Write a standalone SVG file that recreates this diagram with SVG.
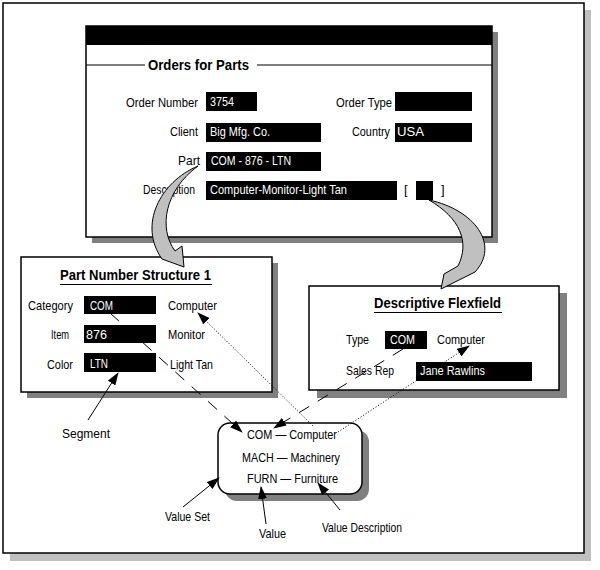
<svg xmlns="http://www.w3.org/2000/svg" width="600" height="570" viewBox="0 0 600 570">
<style>
text{font-family:"Liberation Sans",Arial,sans-serif;font-size:13px;fill:#000}
.t{font-weight:bold;font-size:15px}
.w{fill:#fff}
.box{fill:#fff;stroke:#000;stroke-width:1.5}
.sh{fill:#808080}
.fld{fill:#000}
.ln{stroke:#000;stroke-width:1.2;fill:none}
.dash{stroke:#000;stroke-width:1;fill:none;stroke-dasharray:12,10}
.dot{stroke:#000;stroke-width:1;fill:none;stroke-dasharray:1,2}
.ann{stroke:#000;stroke-width:1;fill:none}
.big{fill:#c0c0c0;stroke:#000;stroke-width:1}
</style>
<defs>
<marker id="ah" markerUnits="userSpaceOnUse" markerWidth="13" markerHeight="9" viewBox="0 0 13 9" refX="12" refY="4.5" orient="auto">
<path d="M0,0 L13,4.5 L0,9 Z" fill="#000"/>
</marker>
</defs>
<rect width="600" height="570" fill="#fff"/>
<g id="frame">
<rect x="10" y="10" width="581" height="551" fill="#c0c0c0"/>
<rect x="3" y="3" width="581" height="550" class="box"/>
</g>
<g id="orders">
<rect x="92" y="32" width="406" height="211" class="sh"/>
<rect x="86" y="26" width="406" height="211" class="box"/>
<rect x="86" y="26" width="406" height="19" class="fld"/>
<line x1="86" y1="65" x2="145" y2="65" class="ln"/>
<line x1="257" y1="65" x2="492" y2="65" class="ln"/>
<text x="148" y="70" class="t" textLength="101" lengthAdjust="spacingAndGlyphs">Orders for Parts</text>
<text x="126" y="107" textLength="72" lengthAdjust="spacingAndGlyphs">Order Number</text>
<rect x="206" y="92" width="51" height="19" class="fld"/>
<text x="210" y="106" class="w" textLength="24" lengthAdjust="spacingAndGlyphs">3754</text>
<text x="336" y="107" textLength="56" lengthAdjust="spacingAndGlyphs">Order Type</text>
<rect x="395" y="92" width="77" height="19" class="fld"/>
<text x="170" y="136" textLength="28" lengthAdjust="spacingAndGlyphs">Client</text>
<rect x="206" y="123" width="115" height="19" class="fld"/>
<text x="210" y="136" class="w" textLength="60" lengthAdjust="spacingAndGlyphs">Big Mfg. Co.</text>
<text x="352" y="136" textLength="38" lengthAdjust="spacingAndGlyphs">Country</text>
<rect x="395" y="123" width="77" height="19" class="fld"/>
<text x="397" y="136" class="w" textLength="27" lengthAdjust="spacingAndGlyphs">USA</text>
<text x="178" y="165" textLength="22" lengthAdjust="spacingAndGlyphs">Part</text>
<rect x="206" y="152" width="115" height="19" class="fld"/>
<text x="211" y="165" class="w" textLength="80" lengthAdjust="spacingAndGlyphs">COM - 876 - LTN</text>
<text x="143" y="194" textLength="52" lengthAdjust="spacingAndGlyphs">Description</text>
<rect x="206" y="181" width="191" height="19" class="fld"/>
<text x="210" y="194" class="w" textLength="137" lengthAdjust="spacingAndGlyphs">Computer-Monitor-Light Tan</text>
<text x="404" y="194">[</text>
<rect x="416" y="181" width="17" height="19" class="fld"/>
<text x="441" y="194">]</text>
</g>
<g id="partnum">
<rect x="27" y="263" width="251" height="135" class="sh"/>
<rect x="21" y="257" width="251" height="135" class="box"/>
<text x="60" y="280" class="t" textLength="151" lengthAdjust="spacingAndGlyphs">Part Number Structure 1</text>
<line x1="60" y1="284.5" x2="212" y2="284.5" class="ann"/>
<text x="28" y="310" textLength="45" lengthAdjust="spacingAndGlyphs">Category</text>
<rect x="84" y="296" width="72" height="18" class="fld"/>
<text x="90" y="310" class="w" textLength="23" lengthAdjust="spacingAndGlyphs">COM</text>
<text x="168" y="310" textLength="49" lengthAdjust="spacingAndGlyphs">Computer</text>
<text x="51" y="339" textLength="18" lengthAdjust="spacingAndGlyphs">Item</text>
<rect x="84" y="325" width="72" height="18" class="fld"/>
<text x="86" y="339" class="w" textLength="21" lengthAdjust="spacingAndGlyphs">876</text>
<text x="168" y="339" textLength="37" lengthAdjust="spacingAndGlyphs">Monitor</text>
<text x="47" y="369" textLength="26" lengthAdjust="spacingAndGlyphs">Color</text>
<rect x="84" y="353" width="72" height="19" class="fld"/>
<text x="90" y="368" class="w" textLength="18" lengthAdjust="spacingAndGlyphs">LTN</text>
<text x="170" y="369" textLength="43" lengthAdjust="spacingAndGlyphs">Light Tan</text>
</g>
<g id="descflex">
<rect x="317" y="293" width="250" height="105" class="sh"/>
<rect x="309" y="286" width="250" height="104" class="box"/>
<text x="374" y="308" class="t" textLength="127" lengthAdjust="spacingAndGlyphs">Descriptive Flexfield</text>
<line x1="374" y1="312.5" x2="502" y2="312.5" class="ann"/>
<text x="346" y="344" textLength="23" lengthAdjust="spacingAndGlyphs">Type</text>
<rect x="385" y="331" width="42" height="18" class="fld"/>
<text x="390" y="344" class="w" textLength="25" lengthAdjust="spacingAndGlyphs">COM</text>
<text x="437" y="344" textLength="48" lengthAdjust="spacingAndGlyphs">Computer</text>
<text x="346" y="375" textLength="48" lengthAdjust="spacingAndGlyphs">Sales Rep</text>
<rect x="416" y="362" width="116" height="19" class="fld"/>
<text x="420" y="375" class="w" textLength="65" lengthAdjust="spacingAndGlyphs">Jane Rawlins</text>
</g>
<g id="valueset">
<rect x="225" y="430" width="144" height="71" rx="12" class="sh"/>
<rect x="218" y="423" width="144" height="71" rx="12" class="box"/>
<text x="247" y="439" textLength="90" lengthAdjust="spacingAndGlyphs">COM — Computer</text>
<text x="242" y="462" textLength="98" lengthAdjust="spacingAndGlyphs">MACH — Machinery</text>
<text x="247" y="483" textLength="91" lengthAdjust="spacingAndGlyphs">FURN — Furniture</text>
</g>
<g id="labels">
<text x="62" y="438" textLength="48" lengthAdjust="spacingAndGlyphs">Segment</text>
<text x="165" y="521" textLength="45" lengthAdjust="spacingAndGlyphs">Value Set</text>
<text x="259" y="538" textLength="27" lengthAdjust="spacingAndGlyphs">Value</text>
<text x="322" y="532" textLength="80" lengthAdjust="spacingAndGlyphs">Value Description</text>
</g>
<g id="connectors">
<line x1="110" y1="313" x2="242" y2="432" class="dash" marker-end="url(#ah)"/>
<line x1="313" y1="426" x2="198" y2="313" class="dot" marker-end="url(#ah)"/>
<line x1="403" y1="349" x2="274" y2="428" class="dash" marker-end="url(#ah)"/>
<line x1="338" y1="432" x2="469" y2="346" class="dot" marker-end="url(#ah)"/>
<line x1="88" y1="420" x2="118" y2="373" class="ann" marker-end="url(#ah)"/>
<line x1="183" y1="507" x2="219" y2="478" class="ann" marker-end="url(#ah)"/>
<line x1="266" y1="524" x2="261" y2="487" class="ann" marker-end="url(#ah)"/>
<line x1="340" y1="510" x2="318" y2="483" class="ann" marker-end="url(#ah)"/>
<path d="M198,166 C160,182 138,225 162,259 L184,267 L182,246 L175,251 C158,228 165,190 198,166 Z" class="big"/>
<path d="M429,200 C475,210 500,245 475,272 L441,289 L444,274 L458,266 C470,242 460,218 429,200 Z" class="big"/>
</g>
</svg>
